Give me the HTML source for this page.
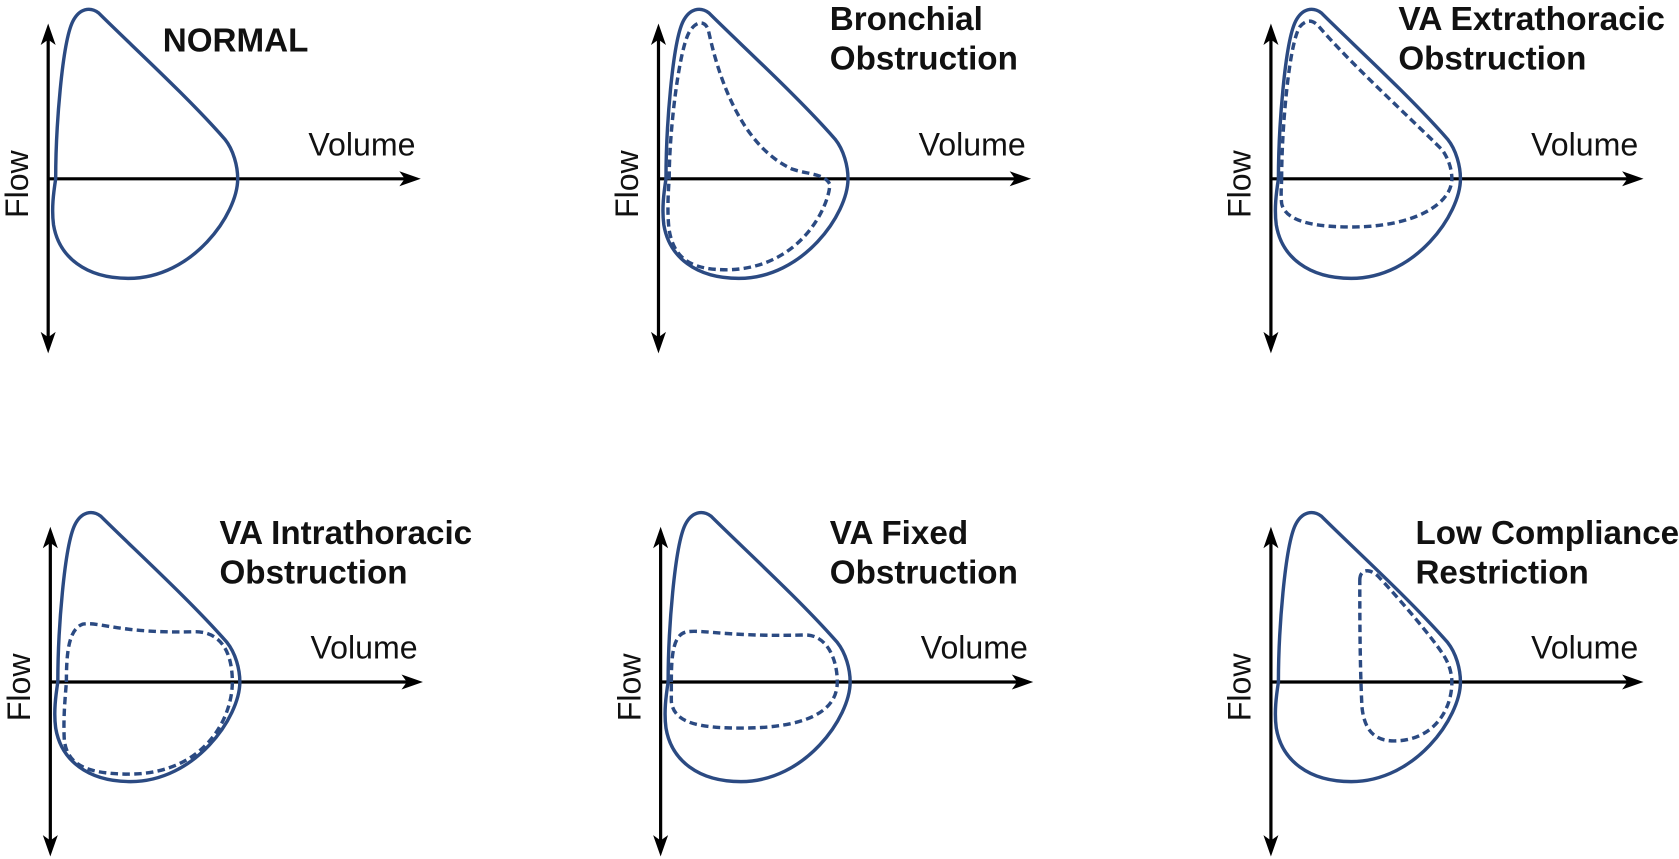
<!DOCTYPE html>
<html><head><meta charset="utf-8"><style>
html,body{margin:0;padding:0;background:#fff;}
svg{display:block;}
text{font-family:"Liberation Sans",Arial,sans-serif;fill:#111;}
.t{font-weight:bold;font-size:31px;}
.l{font-size:30px;}
.s{fill:none;stroke:#2b4a82;stroke-width:3.2;}
.d{fill:none;stroke:#2b4a82;stroke-width:3.2;stroke-dasharray:7,4;}
.ax{stroke:#000;stroke-width:3;fill:none;}
</style></head><body>
<svg width="1679" height="859" viewBox="0 0 1679 859" xmlns="http://www.w3.org/2000/svg">
<defs>
<g id="axes">
<line class="ax" x1="45" y1="34" x2="45" y2="318"/>
<polygon points="45,22 38,42 45,37 52,42" fill="#000"/>
<polygon points="45,330 38,310 45,315 52,310" fill="#000"/>
<line class="ax" x1="45" y1="167" x2="380" y2="167"/>
<polygon points="393,167 373,160 378,167 373,174" fill="#000"/>
<text class="l" x="288" y="145">Volume</text>
<text class="l" transform="translate(26,172) rotate(-90)" text-anchor="middle">Flow</text>
</g>
<path id="loop" class="s" d="M52,167 C52,120 58,40 68,20 C74,8 84,6 92,12 C120,40 175,90 210,130 C218,140 222,155 222,167 C222,200 180,260 120,260 C80,260 55,240 50,210 C48,195 50,180 52,167 Z"/>
</defs>
<g transform="scale(1.0707)">
<g>
<use href="#axes"/><use href="#loop"/>
<text class="t" x="152" y="48">NORMAL</text>
</g>

<g transform="translate(570,0)">
<use href="#axes"/><use href="#loop"/>
<path class="d" d="M55,167 C55,120 65,40 75,28 C82,18 90,20 92,30 C105,90 130,140 170,158 C185,163 200,162 205,172 C205,190 180,250 110,252 C80,252 60,245 55,215 C53,200 54,180 55,167"/>
<text class="t" x="205" y="28">Bronchial</text>
<text class="t" x="205" y="65">Obstruction</text>
</g>

<g transform="translate(1142,0)">
<use href="#axes"/><use href="#loop"/>
<path class="d" d="M55,167 C55,120 62,40 72,25 C78,18 84,18 90,25 C120,60 175,110 205,140 C212,150 214,160 214,167 C214,190 180,212 120,212 C80,212 58,205 55,190 C54,180 55,172 55,167"/>
<text class="t" x="164" y="28" textLength="249" lengthAdjust="spacingAndGlyphs">VA Extrathoracic</text>
<text class="t" x="164" y="65">Obstruction</text>
</g>

<g transform="translate(2,470)">
<use href="#axes"/><use href="#loop"/>
<path class="d" d="M60,167 C60,140 62,118 75,113 C90,110 110,122 180,120 C205,120 215,140 215,167 C215,200 190,252 120,253 C80,253 60,245 58,220 C57,200 59,180 60,167"/>
<text class="t" x="203" y="38">VA Intrathoracic</text>
<text class="t" x="203" y="75">Obstruction</text>
</g>

<g transform="translate(572,470)">
<use href="#axes"/><use href="#loop"/>
<path class="d" d="M55,167 C55,140 57,122 70,120 C85,118 110,125 180,123 C200,123 210,145 210,167 C210,195 180,210 120,210 C80,210 57,205 55,185 C55,178 55,172 55,167"/>
<text class="t" x="203" y="38">VA Fixed</text>
<text class="t" x="203" y="75">Obstruction</text>
</g>

<g transform="translate(1142,470)">
<use href="#axes"/><use href="#loop"/>
<path class="d" d="M128,72 C128,62 136,60 145,68 C170,95 195,125 205,140 C212,150 214,160 214,167 C214,195 195,222 160,222 C140,222 132,210 130,190 C128,150 128,100 128,72 Z"/>
<text class="t" x="180" y="38">Low Compliance</text>
<text class="t" x="180" y="75">Restriction</text>
</g>
</g>
</svg>
</body></html>
